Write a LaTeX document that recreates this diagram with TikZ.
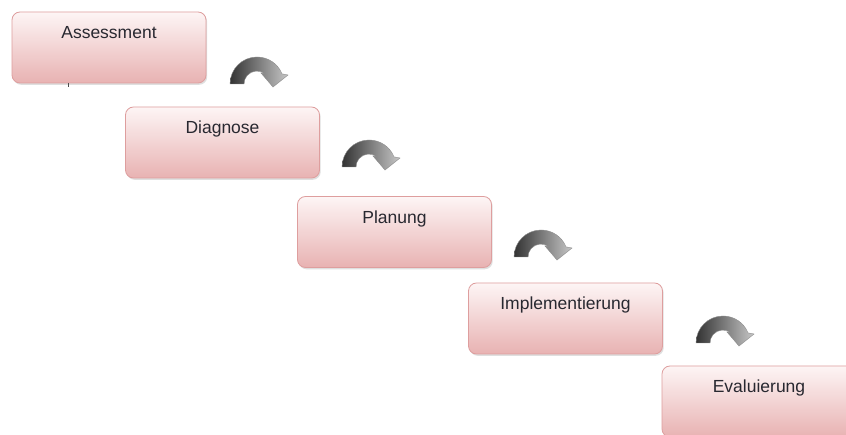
\documentclass[tikz,border=0pt]{standalone}
\usepackage{fontspec}
\setmainfont{Liberation Sans}
\usetikzlibrary{shadows}
\definecolor{boxtop}{RGB}{253,245,245}
\definecolor{boxbot}{RGB}{232,178,178}
\definecolor{boxedge}{RGB}{222,158,158}
\definecolor{txt}{RGB}{40,40,48}
\tikzset{
  stepbox/.style={rectangle, rounded corners=8pt, draw=boxedge, line width=0.8pt,
    top color=boxtop, bottom color=boxbot, minimum width=194pt, minimum height=71pt,
    inner xsep=4pt, inner ysep=6.5pt, text height=20.5pt, text depth=37.5pt,
    font=\fontsize{17.5}{20}\selectfont, text=txt,
    drop shadow={shadow xshift=1.2pt, shadow yshift=-1.8pt, opacity=0.25}},
  curvarr/.pic={
    \begin{scope}[x=1pt,y=1pt]
      \shade[left color=black!80, right color=black!22, draw=black!45, line width=0.4pt]
        (-27,0) arc[start angle=180, end angle=22, radius=27]
        -- (31,9) -- (16,-3) -- (4,11) -- (50:13)
        arc[start angle=50, end angle=180, radius=13] -- cycle;
    \end{scope}
  }
}
\begin{document}
\begin{tikzpicture}[x=1pt,y=-1pt]
  \fill[white] (0,0) rectangle (846,435);
  \useasboundingbox (0,0) rectangle (846,435);
  \node[stepbox] (a) at (109,47.5) {Assessment};
  \node[stepbox] (d) at (222.5,142.5) {Diagnose};
  \node[stepbox] (p) at (394.5,232) {Planung};
  \node[stepbox] (i) at (565.5,318.5) {Implementierung};
  \node[stepbox] (e) at (759,401.5) {Evaluierung};
  \coordinate (t1) at (68,83);
  \coordinate (t2) at (68,87.5);
  \draw[black!70, line width=1pt] (t1) -- (t2);
  \pic at (257,84) {curvarr};
  \pic at (369,167) {curvarr};
  \pic at (541,257) {curvarr};
  \pic at (723,343) {curvarr};
\end{tikzpicture}
\end{document}
